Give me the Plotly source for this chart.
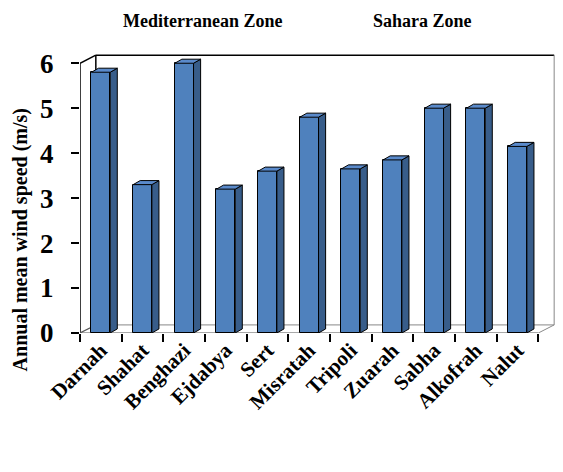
import plotly.graph_objects as go

# ---- data ----
stations = ["Darnah", "Shahat", "Benghazi", "Ejdabya", "Sert", "Misratah",
            "Tripoli", "Zuarah", "Sabha", "Alkofrah", "Nalut"]
wind_speed = [5.8, 3.3, 6.0, 3.2, 3.6, 4.8, 3.65, 3.85, 5.0, 5.0, 4.15]
y_ticks = [0, 1, 2, 3, 4, 5, 6]
zones = ["Mediterranean Zone", "Sahara Zone"]

# ---- style constants ----
FONT = "Liberation Serif, Times New Roman, serif"
FRONT = "#4F81BD"
SIDE = "#385D8A"
TOP = "#5A8ACB"
W = 0.45          # bar face width (category units)
BDX, BDY = 0.17, 0.09   # bar depth offset
WDX, WDY = 0.38, 0.18   # wall/floor depth offset
YMAX = 6
n = len(stations)
idx = list(range(n))

fig = go.Figure()

# side faces
sx, sy = [], []
for i, v in zip(idx, wind_speed):
    xr = i + W / 2
    sx += [xr, xr + BDX, xr + BDX, xr, xr, None]
    sy += [0, BDY, v + BDY, v, 0, None]
fig.add_trace(go.Scatter(x=sx, y=sy, mode="lines", fill="toself",
                         fillcolor=SIDE, line=dict(color="black", width=1),
                         hoverinfo="skip", showlegend=False, cliponaxis=False))

# top faces
tx, ty = [], []
for i, v in zip(idx, wind_speed):
    xl, xr = i - W / 2, i + W / 2
    tx += [xl, xr, xr + BDX, xl + BDX, xl, None]
    ty += [v, v, v + BDY, v + BDY, v, None]
fig.add_trace(go.Scatter(x=tx, y=ty, mode="lines", fill="toself",
                         fillcolor=TOP, line=dict(color="black", width=1),
                         hoverinfo="skip", showlegend=False, cliponaxis=False))

# front faces
fig.add_trace(go.Bar(x=idx, y=wind_speed, width=W,
                     marker=dict(color=FRONT, line=dict(color="black", width=1)),
                     showlegend=False))

# frame (walls / floor)
L, R = -0.5, n - 0.5
frame = [
    (L, 0, L, YMAX, "black", 1.5),
    (L + WDX, WDY, L + WDX, YMAX + WDY, "black", 1.5),
    (L, YMAX, L + WDX, YMAX + WDY, "black", 1.5),
    (L, 0, L + WDX, WDY, "#555", 1.2),
    (L + WDX, YMAX + WDY, R + WDX, YMAX + WDY, "black", 1.5),
    (L + WDX, WDY, R + WDX, WDY, "#888", 1),
    (L, 0, R, 0, "#555", 1.2),
    (R, 0, R + WDX, WDY, "#888", 1),
    (R + WDX, WDY, R + WDX, YMAX + WDY, "#888", 1),
]
for x0, y0, x1, y1, c, w in frame:
    fig.add_shape(type="line", x0=x0, y0=y0, x1=x1, y1=y1, xref="x", yref="y",
                  line=dict(color=c, width=w), layer="below")

# the page body adds an 8px margin; the figure is sized to fit inside it
fig.update_layout(
    width=555, height=464,
    margin=dict(l=72, r=8, t=44, b=139),
    paper_bgcolor="white", plot_bgcolor="white",
    bargap=0,
    xaxis=dict(range=[L, R + 0.4], tickvals=idx, ticktext=stations,
               tickangle=-45, ticks="", showgrid=False, zeroline=False,
               showline=False, automargin=False,
               tickfont=dict(family=FONT, size=21, color="black", weight="bold"),
               minor=dict(tickmode="array", tickvals=[k - 0.5 for k in range(n + 1)],
                          ticks="outside", ticklen=8, tickwidth=1.5,
                          tickcolor="black", showgrid=False)),
    yaxis=dict(range=[0, 6.25], tickvals=y_ticks, ticks="outside", ticklen=8,
               tickwidth=2, tickcolor="black", showgrid=False, zeroline=False,
               showline=False, ticklabelstandoff=12, automargin=False,
               tickfont=dict(family=FONT, size=27, color="black", weight="bold")),
    annotations=[
        dict(text="Annual mean wind speed (m/s)", textangle=-90, x=-0.126, y=0.33,
             xref="paper", yref="paper", showarrow=False, xanchor="center",
             yanchor="middle",
             font=dict(family=FONT, size=20, color="black", weight="bold")),
        dict(text=zones[0], x=0.257, y=1.11, xref="paper", yref="paper",
             showarrow=False, xanchor="center", yanchor="middle",
             font=dict(family=FONT, size=18, color="black", weight="bold")),
        dict(text=zones[1], x=0.72, y=1.11, xref="paper", yref="paper",
             showarrow=False, xanchor="center", yanchor="middle",
             font=dict(family=FONT, size=18, color="black", weight="bold")),
    ],
)

fig.write_html("out.html")
